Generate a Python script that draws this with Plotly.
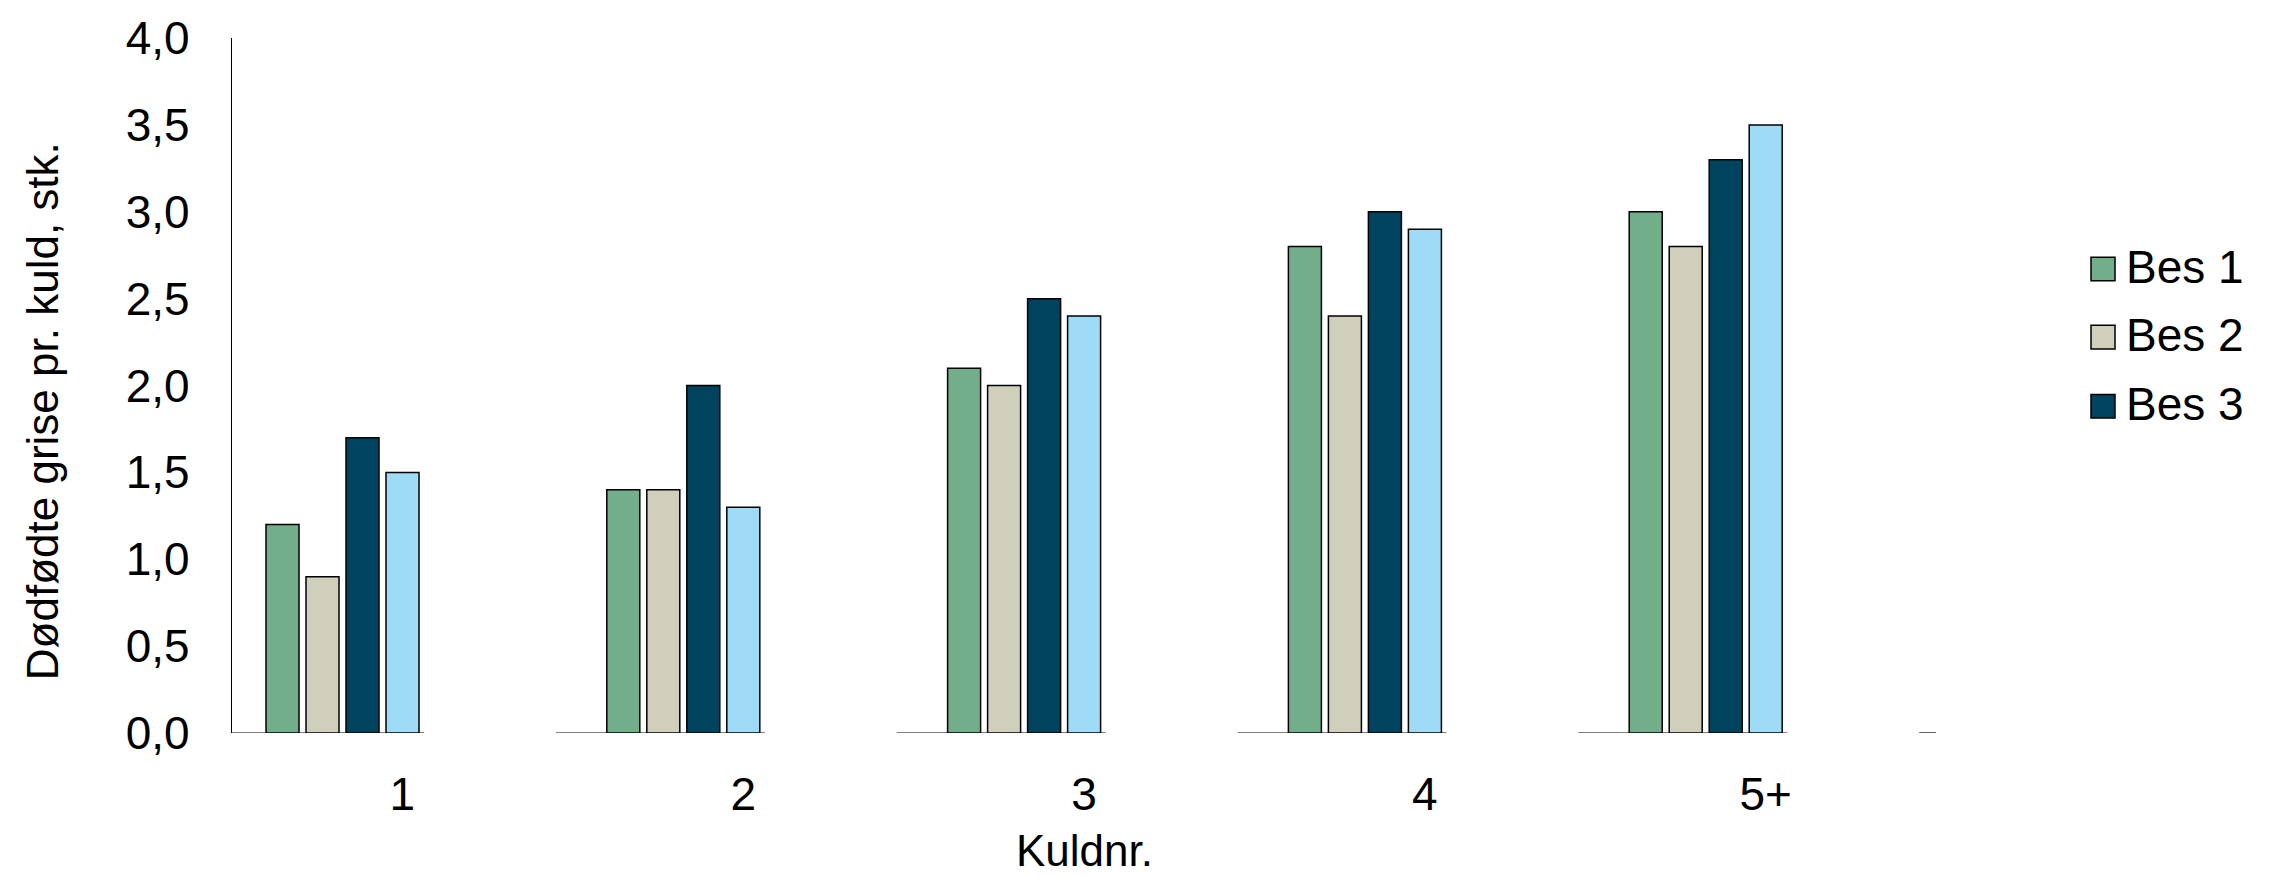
import plotly.graph_objects as go

# ---- data ----
categories = ["1", "2", "3", "4", "5+"]
series_names = ["Bes 1", "Bes 2", "Bes 3", "Bes 4"]
bes1 = [1.2, 1.4, 2.1, 2.8, 3.0]
bes2 = [0.9, 1.4, 2.0, 2.4, 2.8]
bes3 = [1.7, 2.0, 2.5, 3.0, 3.3]
bes4 = [1.5, 1.3, 2.4, 2.9, 3.5]
legend_names = ["Bes 1", "Bes 2", "Bes 3"]
y_ticks = [0.0, 0.5, 1.0, 1.5, 2.0, 2.5, 3.0, 3.5, 4.0]

colors = ["#72AE8A", "#CFCFBC", "#00435E", "#9EDBF6"]
values = [bes1, bes2, bes3, bes4]

W, H = 2277, 877
ml, mr, mt, mb = 232, 341, 29, 144
plot_w = W - ml - mr
plot_h = H - mt - mb
cat_px = plot_w / len(categories)

pitch = 40 / cat_px
bw = 33 / cat_px
start = -0.5 + 34 / cat_px
x_idx = list(range(len(categories)))

FONT = "Liberation Sans, Arial, sans-serif"

fig = go.Figure()
for k, (name, vals, col) in enumerate(zip(series_names, values, colors)):
    fig.add_trace(go.Bar(
        x=x_idx, y=vals, name=name,
        offset=start + k * pitch, width=bw,
        marker=dict(color=col, line=dict(color="#000000", width=1.5)),
        showlegend=False,
    ))

# segmented category axis baseline (gaps after each group)
last_right = start + 3 * pitch + bw
gap_a = last_right + 5 / cat_px
gap_b = gap_a + 132 / cat_px
seg_starts = [-0.5] + [i + gap_b for i in x_idx]
seg_ends = [i + gap_a for i in x_idx] + [len(categories) - 0.5]
for s, e in zip(seg_starts, seg_ends):
    fig.add_shape(type="line", xref="x", yref="y", x0=s, x1=e, y0=0, y1=0,
                  line=dict(color="#000000", width=1.2), layer="below")

# custom legend
def px_x(p):
    return (p - ml) / plot_w

def px_y(p):
    return (H - mb - p) / plot_h

leg_rows = [263, 332, 402]
for name, col, yc in zip(legend_names, colors, leg_rows):
    fig.add_shape(type="rect", xref="paper", yref="paper",
                  x0=px_x(2091), x1=px_x(2115), y0=px_y(yc + 12), y1=px_y(yc - 12),
                  fillcolor=col, line=dict(color="#000000", width=1.5))
    fig.add_annotation(xref="paper", yref="paper", x=px_x(2124), y=px_y(yc - 2),
                       text=name, showarrow=False, xanchor="left", yanchor="middle",
                       font=dict(family=FONT, size=46, color="#000000"))

# y-axis title
fig.add_annotation(xref="paper", yref="paper", x=px_x(42), y=px_y(407),
                   text="Dødfødte grise pr. kuld, stk.", textangle=-90,
                   showarrow=False, xanchor="center", yanchor="middle",
                   font=dict(family=FONT, size=44, color="#000000"))

# x-axis title
fig.add_annotation(xref="paper", yref="paper", x=0.5, y=px_y(852),
                   text="Kuldnr.", showarrow=False,
                   xanchor="center", yanchor="middle",
                   font=dict(family=FONT, size=44, color="#000000"))

fig.update_layout(
    width=W, height=H,
    margin=dict(l=ml, r=mr, t=mt, b=mb, pad=0),
    paper_bgcolor="white", plot_bgcolor="white",
    barmode="overlay",
    separators=", ",
    font=dict(family=FONT, size=46, color="#000000"),
    showlegend=False,
)
fig.update_xaxes(
    range=[-0.5, len(categories) - 0.5],
    tickvals=x_idx, ticktext=categories,
    showline=False, showgrid=False, zeroline=False, ticks="",
    ticklabelstandoff=30,
    tickfont=dict(family=FONT, size=46),
)
fig.update_yaxes(
    range=[0, 4], tickvals=y_ticks, tickformat=".1f",
    showline=True, linecolor="#000000", linewidth=1.2,
    showgrid=False, zeroline=False, ticks="",
    ticklabelstandoff=32,
    tickfont=dict(family=FONT, size=46),
)

fig.write_html(
    "out.html",
    config={"displayModeBar": False},
    post_script="document.body.style.margin='0';document.body.style.overflow='hidden';",
)
